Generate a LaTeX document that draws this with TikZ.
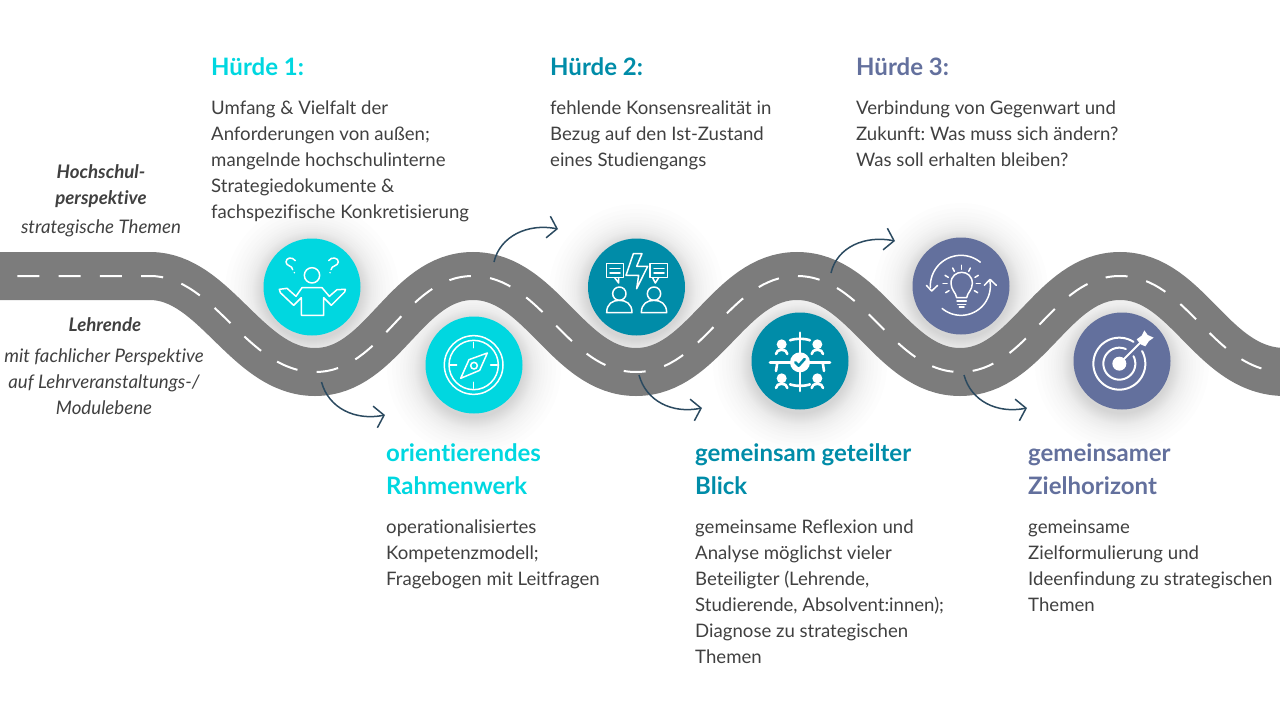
\documentclass[tikz,border=0pt]{standalone}
\usepackage{fontspec}
\setmainfont[Ligatures=NoCommon]{Lato}
\definecolor{cyanstop}{HTML}{00D7E0}
\definecolor{tealstop}{HTML}{008CA8}
\definecolor{slatestop}{HTML}{63709D}
\definecolor{roadgrey}{HTML}{7C7C7C}
\definecolor{arrowblue}{HTML}{2B4A60}
\definecolor{textgrey}{HTML}{404040}
\usetikzlibrary{arrows.meta}
\newcommand{\roadline}{(0,276) -- (150,276)
    .. controls (215,276) and (247,372) .. (315,372)
    .. controls (383,372) and (405,276) .. (473,276)
    .. controls (541,276) and (568,372) .. (636,372)
    .. controls (704,372) and (729,276) .. (797,276)
    .. controls (865,276) and (892,372) .. (960,372)
    .. controls (1028,372) and (1052,276) .. (1120,276)
    .. controls (1188,276) and (1212,372) .. (1285,372)}
\tikzset{
    roadbase/.style={line width=48pt, roadgrey},
    roadmark/.style={line width=2pt, white, dash pattern=on 22pt off 19.3pt, dash phase=24pt},
    stopdot/.style={circle, minimum size=97pt, inner sep=0pt},
    hop/.style={arrowblue, line width=1.5pt, -{Straight Barb[length=9pt,width=22pt]}},
    icon/.style={white, line width=1.5pt, line join=round, line cap=round},
    head/.style={font=\fontsize{24}{33}\selectfont\bfseries, align=left, anchor=north west, inner sep=0pt},
    body/.style={textgrey, font=\fontsize{18.6}{26}\selectfont\frenchspacing, align=left, anchor=north west, inner sep=0pt},
    side/.style={textgrey, font=\fontsize{18.7}{26}\selectfont\itshape, align=center, inner sep=0pt},
    sidehead/.style={side, font=\fontsize{18.7}{26}\selectfont\itshape\bfseries},
}
\begin{document}
\begin{tikzpicture}[x=1pt,y=-1pt]
    \useasboundingbox (0,0) rectangle (1280,720);

    % soft glow under the stops
    \foreach \px/\py in {312/291, 474/369, 636/291, 800/365, 961/290, 1122/365}
        \foreach \r in {49,50,51,52,53,54,55,56,57,58,59,60,62,64,66,68,71,74,78,82,87}
            \fill[black, opacity=0.009] (\px,\py) circle[radius=\r];

    \draw[roadbase] \roadline;
    \draw[roadmark] \roadline;

    \node[stopdot, fill=cyanstop]  (asking)  at (312,287) {};
    \node[stopdot, fill=cyanstop]  (compass) at (474,365) {};
    \node[stopdot, fill=tealstop]  (debate)  at (636.5,287) {};
    \node[stopdot, fill=tealstop]  (meeting) at (800,361) {};
    \node[stopdot, fill=slatestop] (idea)    at (961,286) {};
    \node[stopdot, fill=slatestop] (target)  at (1122,361) {};

    % hops off the road
    \coordinate (hopAa) at (321.5,382);  \coordinate (hopAb) at (385,415);
    \coordinate (hopBa) at (494,262);    \coordinate (hopBb) at (558,229);
    \coordinate (hopCa) at (639,375);    \coordinate (hopCb) at (702,408);
    \coordinate (hopDa) at (831,273);    \coordinate (hopDb) at (895,241);
    \coordinate (hopEa) at (964,375);    \coordinate (hopEb) at (1027,408);
    \draw[hop] (hopAa) .. controls +(7,26) and +(-30,6) .. (hopAb);
    \draw[hop] (hopBa) .. controls +(6,-26) and +(-30,-6) .. (hopBb);
    \draw[hop] (hopCa) .. controls +(7,26) and +(-30,6) .. (hopCb);
    \draw[hop] (hopDa) .. controls +(6,-26) and +(-30,-6) .. (hopDb);
    \draw[hop] (hopEa) .. controls +(7,26) and +(-30,6) .. (hopEb);

    % person with raised shoulders
    \begin{scope}[shift={(272,247)}, scale=1/3, icon]
        \draw (120,85) circle[radius=23];
        \draw (22,127) -- (45,124) -- (72,148) -- (90,122) -- (150,122) -- (172,148) -- (195,128) -- (220,127)
            -- (218,135) -- (178,175) -- (155,152) -- (155,205) -- (88,205) -- (88,152) -- (65,175) -- (25,137) -- cycle;
        \draw (70,41) .. controls (60,28) and (42,32) .. (42,45) .. controls (42,58) and (62,55) .. (62,68);
        \fill (67,77) circle[radius=2.5];
        \draw (170,41) .. controls (178,28) and (200,32) .. (199,45) .. controls (198,58) and (178,55) .. (177,68);
        \fill (174,77) circle[radius=2.5];
    \end{scope}

    % compass
    \begin{scope}[shift={(434,325)}, scale=1/3, icon]
        \draw (119,120) circle[radius=88];
        \draw (119,120) circle[radius=74];
        \draw (119,52) -- (119,68);
        \draw (119,172) -- (119,190);
        \draw (48,120) -- (68,120);
        \draw (170,120) -- (190,120);
        \draw (160,84) -- (105,104) -- (80,160) -- (137,136) -- cycle;
        \draw (120,122) circle[radius=10];
    \end{scope}

    % two people arguing
    \begin{scope}[shift={(596,247)}, scale=1/3, icon]
        \draw (32,50) rectangle (82,92);
        \draw (42,65) -- (72,65);
        \draw (42,78) -- (72,78);
        \draw (56,92) -- (68,108) -- (68,92);
        \draw (162,50) rectangle (214,92);
        \draw (174,65) -- (204,65);
        \draw (174,78) -- (204,78);
        \draw (170,92) -- (178,108) -- (188,92);
        \draw (112,20) -- (138,20) -- (122,58) -- (155,58) -- (122,125) -- (128,85) -- (90,85) -- cycle;
        \foreach \cx in {70,174} {
            \draw (\cx,140) circle[radius=20];
            \draw ({\cx-38},197) .. controls ({\cx-38},170) and ({\cx-20},160) .. (\cx,160)
                .. controls ({\cx+20},160) and ({\cx+38},170) .. ({\cx+38},197) -- cycle;
        }
    \end{scope}

    % round table
    \begin{scope}[shift={(760,321)}, scale=1/3, icon, line width=2.6pt]
        \draw (30,124) -- (210,124);
        \draw (120,35) -- (120,210);
        \draw (90,58) .. controls (105,52) and (135,52) .. (150,58);
        \draw (90,190) .. controls (105,196) and (135,196) .. (150,190);
        \draw (52,124) -- (48,150);
        \draw (188,124) -- (192,150);
        \foreach \cx/\cy in {65/70, 172/70, 65/172, 172/172} {
            \fill (\cx,\cy) circle[radius=15];
            \draw ({\cx-17},{\cy+29}) .. controls ({\cx-17},{\cy+12}) and ({\cx+17},{\cy+12}) .. ({\cx+17},{\cy+29});
        }
        \fill (120,124) circle[radius=30];
        \draw[tealstop] (106,124) -- (116,134) -- (134,114);
    \end{scope}

    % bulb with turning arrows
    \begin{scope}[shift={(921,246)}, scale=1/3, icon]
        \draw plot[domain=51:183, samples=30] ({120+92*cos(\x)},{120-92*sin(\x)});
        \draw (16,118) -- (32,135) -- (50,118);
        \draw plot[domain=230:370, samples=30] ({120+88*cos(\x)},{120-88*sin(\x)});
        \draw (190,118) -- (207,100) -- (226,118);
        \draw (107,155) .. controls (105,140) and (90,132) .. (90,112) .. controls (90,68) and (154,68) .. (154,112)
            .. controls (154,132) and (139,140) .. (137,155) -- cycle;
        \draw (108,165) -- (136,165);
        \draw (110,175) -- (134,175);
        \draw (115,183) -- (129,183);
        \draw (122,58) -- (122,70);
        \draw (95,66) -- (100,76);
        \draw (148,66) -- (143,76);
        \draw (72,88) -- (82,94);
        \draw (172,88) -- (162,94);
        \draw (66,113) -- (78,113);
        \draw (166,113) -- (178,113);
        \draw (74,140) -- (84,134);
        \draw (170,140) -- (160,134);
    \end{scope}

    % target
    \begin{scope}[shift={(1082,321)}, scale=1/3, icon, line width=2pt]
        \draw plot[domain=57:389, samples=50] ({112+78*cos(\x)},{128-78*sin(\x)});
        \draw plot[domain=66:388, samples=40] ({112+48*cos(\x)},{128-48*sin(\x)});
        \fill (112,128) circle[radius=21];
        \draw (118,122) -- (178,62);
        \fill (164,55) -- (179,44) -- (187,28) -- (197,42) -- (215,50) -- (201,60) -- (190,76) -- (176,70) -- cycle;
    \end{scope}

    \node[sidehead] (uniTitle) at (101,186) {Hochschul-\\perspektive};
    \node[side] (uniText) at (101,228) {strategische Themen};
    \node[sidehead] (staffTitle) at (105,325) {Lehrende};
    \node[side] (staffText) at (104,382) {mit fachlicher Perspektive\\auf Lehrveranstaltungs-/\\Modulebene};

    \node[head, cyanstop] (hurdleA) at (211,57) {Hürde 1:};
    \node[body] (hurdleAtext) at (211,100.5) {Umfang \& Vielfalt der\\Anforderungen von außen;\\mangelnde hochschulinterne\\Strategiedokumente \&\\fachspezifische Konkretisierung};
    \node[head, tealstop] (hurdleB) at (550,57) {Hürde 2:};
    \node[body] (hurdleBtext) at (550,100.5) {fehlende Konsensrealität in\\Bezug auf den Ist-Zustand\\eines Studiengangs};
    \node[head, slatestop] (hurdleC) at (856,57) {Hürde 3:};
    \node[body] (hurdleCtext) at (856,100.5) {Verbindung von Gegenwart und\\Zukunft: Was muss sich ändern?\\Was soll erhalten bleiben?};

    \node[head, cyanstop] (goalA) at (386,443) {orientierendes\\Rahmenwerk};
    \node[body] (goalAtext) at (386,519.5) {operationalisiertes\\Kompetenzmodell;\\Fragebogen mit Leitfragen};
    \node[head, tealstop] (goalB) at (695,443) {gemeinsam geteilter\\Blick};
    \node[body] (goalBtext) at (695,519.5) {gemeinsame Reflexion und\\Analyse möglichst vieler\\Beteiligter (Lehrende,\\Studierende, Absolvent:innen);\\Diagnose zu strategischen\\Themen};
    \node[head, slatestop] (goalC) at (1028,443) {gemeinsamer\\Zielhorizont};
    \node[body] (goalCtext) at (1028,519.5) {gemeinsame\\Zielformulierung und\\Ideenfindung zu strategischen\\Themen};
\end{tikzpicture}
\end{document}
